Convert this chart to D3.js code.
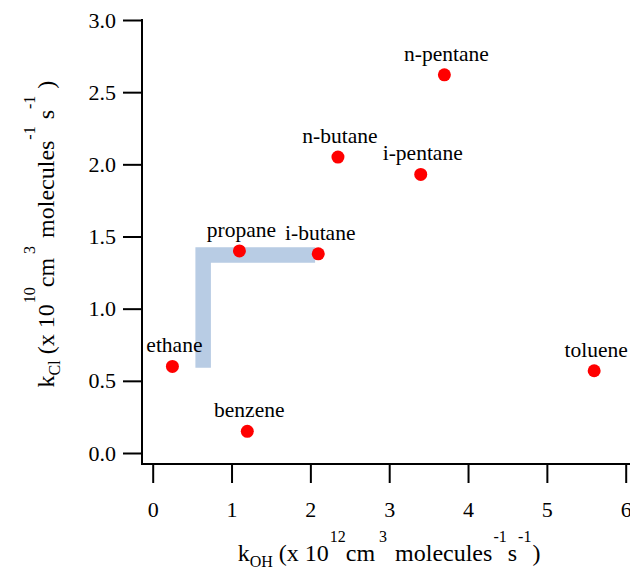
<!DOCTYPE html>
<html>
<head>
<meta charset="utf-8">
<script src="https://cdn.jsdelivr.net/npm/d3@7"></script>
<style>
  html, body { margin: 0; padding: 0; background: #fff; }
  svg { display: block; font-family: "Liberation Serif", "Times New Roman", serif; }
  svg text, svg tspan { font-family: "Liberation Serif", "Times New Roman", serif !important; fill: #000; }
</style>
</head>
<body>
<svg id="chart" width="630" height="570"></svg>
<script>
// ---- data ----
const compounds = ["ethane", "benzene", "propane", "i-butane", "n-butane", "i-pentane", "n-pentane", "toluene"];
const kOH = [0.25, 1.20, 1.10, 2.10, 2.35, 3.40, 3.70, 5.60];
const kCl = [0.60, 0.15, 1.40, 1.38, 2.05, 1.93, 2.62, 0.57];
const xTicks = [0, 1, 2, 3, 4, 5, 6];
const yTicks = [0.0, 0.5, 1.0, 1.5, 2.0, 2.5, 3.0];
// highlight bracket (L shape) in data units
const bracketX = [0.64, 0.64, 2.06];
const bracketY = [0.59, 1.372, 1.372];

const SERIF = '"Liberation Serif", "Times New Roman", serif';

// ---- layout ----
const svg = d3.select("#chart");
const x = d3.scaleLinear().domain([0, 6]).range([152.7, 625.7]);
const y = d3.scaleLinear().domain([0, 3]).range([453, 20]);
const axisX = 142, axisY = 464;

// bracket
const line = d3.line().x(d => x(d[0])).y(d => y(d[1]));
svg.append("path")
  .datum(d3.zip(bracketX, bracketY))
  .attr("d", line)
  .attr("fill", "none")
  .attr("stroke", "#b8cce4")
  .attr("stroke-width", 15.5)
  .attr("stroke-linejoin", "miter")
  .attr("stroke-linecap", "butt");

// axes
const yAxis = d3.axisLeft(y).tickValues(yTicks).tickFormat(d3.format(".1f"))
  .tickSize(19).tickPadding(7);
const gy = svg.append("g").attr("transform", `translate(${axisX},0)`).call(yAxis)
  .attr("font-family", SERIF);
gy.select(".domain").remove();
gy.selectAll("line").attr("stroke", "#000").attr("stroke-width", 2);
gy.selectAll("text").attr("font-size", 22).style("font-family", SERIF);

const xAxis = d3.axisBottom(x).tickValues(xTicks).tickFormat(d3.format("d"))
  .tickSize(19).tickPadding(18);
const gx = svg.append("g").attr("transform", `translate(0,${axisY})`).call(xAxis)
  .attr("font-family", SERIF);
gx.select(".domain").remove();
gx.selectAll("line").attr("stroke", "#000").attr("stroke-width", 2);
gx.selectAll("text").attr("font-size", 22).style("font-family", SERIF);

svg.append("line").attr("x1", axisX).attr("x2", axisX).attr("y1", 19).attr("y2", axisY + 1)
  .attr("stroke", "#000").attr("stroke-width", 2);
svg.append("line").attr("x1", axisX - 1).attr("x2", 630).attr("y1", axisY).attr("y2", axisY)
  .attr("stroke", "#000").attr("stroke-width", 2);

// points
const pts = compounds.map((c, i) => ({ name: c, x: kOH[i], y: kCl[i] }));
svg.append("g").selectAll("circle").data(pts).join("circle")
  .attr("cx", d => x(d.x)).attr("cy", d => y(d.y)).attr("r", 6.5)
  .attr("fill", "#ff0000");

svg.append("g").selectAll("text").data(pts).join("text")
  .attr("x", d => x(d.x) + 2).attr("y", d => y(d.y) - 14)
  .attr("text-anchor", "middle").attr("font-size", 21.5)
  .style("font-family", SERIF)
  .text(d => d.name);

// axis titles
function title(sel, parts) {
  parts.forEach(p => {
    const t = sel.append("tspan").text(p.t).style("font-family", SERIF);
    if (p.s === "sup" || p.s === "sub") t.attr("font-size", 16);
    if (p.dy !== undefined) t.attr("dy", p.dy);
    if (p.dx !== undefined) t.attr("dx", p.dx);
  });
}
const xt = svg.append("text").attr("x", 389).attr("y", 561).attr("text-anchor", "middle")
  .attr("font-size", 24).style("font-family", SERIF);
title(xt, [
  { t: "k" }, { t: "OH", s: "sub", dy: 6 }, { t: " (x 10", dy: -6 }, { t: "12", s: "sup", dy: -19, dx: 1 },
  { t: "cm", dy: 19 }, { t: "3", s: "sup", dy: -19, dx: 4 }, { t: " molecules", dy: 19, dx: 2 },
  { t: "-1", s: "sup", dy: -19, dx: 1 }, { t: "s", dy: 19, dx: 1 }, { t: "-1", s: "sup", dy: -19, dx: 1 }, { t: ")", dy: 19, dx: 1 }
]);

const yt = svg.append("text").attr("transform", "translate(54,234) rotate(-90)")
  .attr("text-anchor", "middle").attr("font-size", 24).style("font-family", SERIF);
title(yt, [
  { t: "k" }, { t: "Cl", s: "sub", dy: 6 }, { t: " (x 10", dy: -6 }, { t: "10", s: "sup", dy: -19, dx: 1 },
  { t: "cm", dy: 19 }, { t: "3", s: "sup", dy: -19, dx: 4 }, { t: " molecules", dy: 19, dx: 2 },
  { t: "-1", s: "sup", dy: -19, dx: 1 }, { t: " s", dy: 19, dx: 1 }, { t: "-1", s: "sup", dy: -19, dx: 1 }, { t: " )", dy: 19, dx: 1 }
]);
</script>
</body>
</html>
